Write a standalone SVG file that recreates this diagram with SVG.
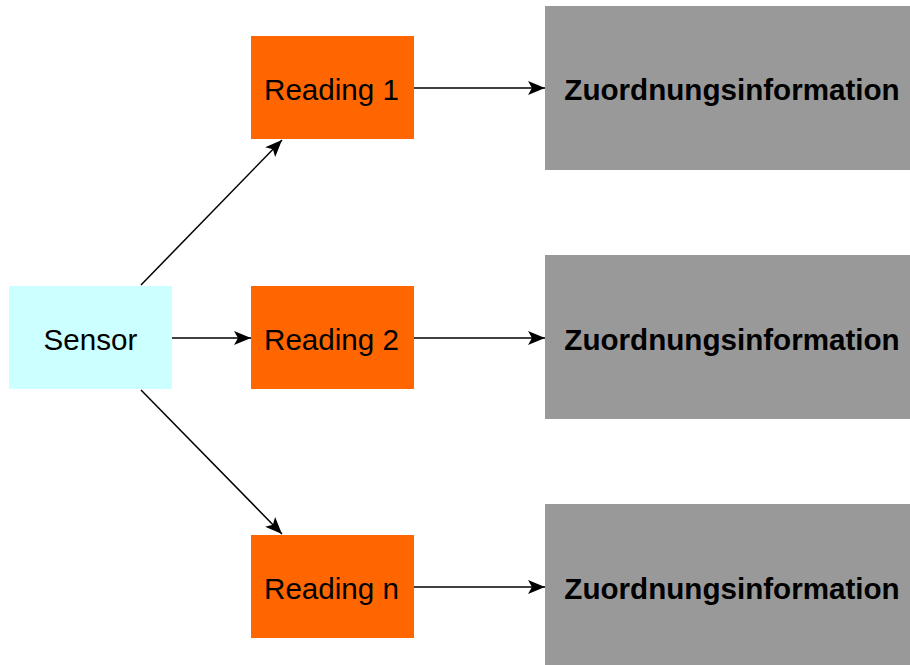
<svg xmlns="http://www.w3.org/2000/svg" width="910" height="665" viewBox="0 0 910 665">
  <style>
    .sensor { fill: #ccffff; }
    .reading { fill: #ff6600; }
    .info { fill: #999999; }
    .lbl { font-family: "Liberation Sans", Arial, sans-serif; font-size: 29.6px; fill: #000; text-anchor: middle; }
    .bold { font-weight: bold; }
    .edge { stroke: #000; stroke-width: 1.5; fill: none; marker-end: url(#arrow); }
  </style>
  <defs>
    <marker id="arrow" markerUnits="userSpaceOnUse" markerWidth="18" markerHeight="14" refX="17" refY="7" orient="auto">
      <path d="M0,0 L17,7 L0,14 L4,7 Z" fill="#000"/>
    </marker>
  </defs>
  <rect width="910" height="665" fill="#fff"/>

  <g id="sensor">
    <rect class="sensor" x="9" y="286" width="163" height="103"/>
    <text class="lbl" x="90.5" y="349.5">Sensor</text>
  </g>

  <g id="reading-1">
    <rect class="reading" x="251" y="36" width="163" height="103"/>
    <text class="lbl" x="331.5" y="100">Reading 1</text>
  </g>
  <g id="reading-2">
    <rect class="reading" x="251" y="286" width="163" height="103"/>
    <text class="lbl" x="331.5" y="349.5">Reading 2</text>
  </g>
  <g id="reading-n">
    <rect class="reading" x="251" y="535" width="163" height="103"/>
    <text class="lbl" x="331.5" y="599">Reading n</text>
  </g>

  <g id="info-1">
    <rect class="info" x="545" y="6" width="370" height="164"/>
    <text class="lbl bold" x="732" y="100">Zuordnungsinformation</text>
  </g>
  <g id="info-2">
    <rect class="info" x="545" y="255" width="370" height="164"/>
    <text class="lbl bold" x="732" y="349.5">Zuordnungsinformation</text>
  </g>
  <g id="info-n">
    <rect class="info" x="545" y="504" width="370" height="170"/>
    <text class="lbl bold" x="732" y="599">Zuordnungsinformation</text>
  </g>

  <g id="connectors">
    <line class="edge" x1="141" y1="285" x2="282" y2="140"/>
    <line class="edge" x1="172" y1="338" x2="251" y2="338"/>
    <line class="edge" x1="141" y1="390" x2="282" y2="534"/>
    <line class="edge" x1="414" y1="88" x2="545" y2="88"/>
    <line class="edge" x1="414" y1="338" x2="545" y2="338"/>
    <line class="edge" x1="414" y1="587" x2="545" y2="587"/>
  </g>
</svg>
